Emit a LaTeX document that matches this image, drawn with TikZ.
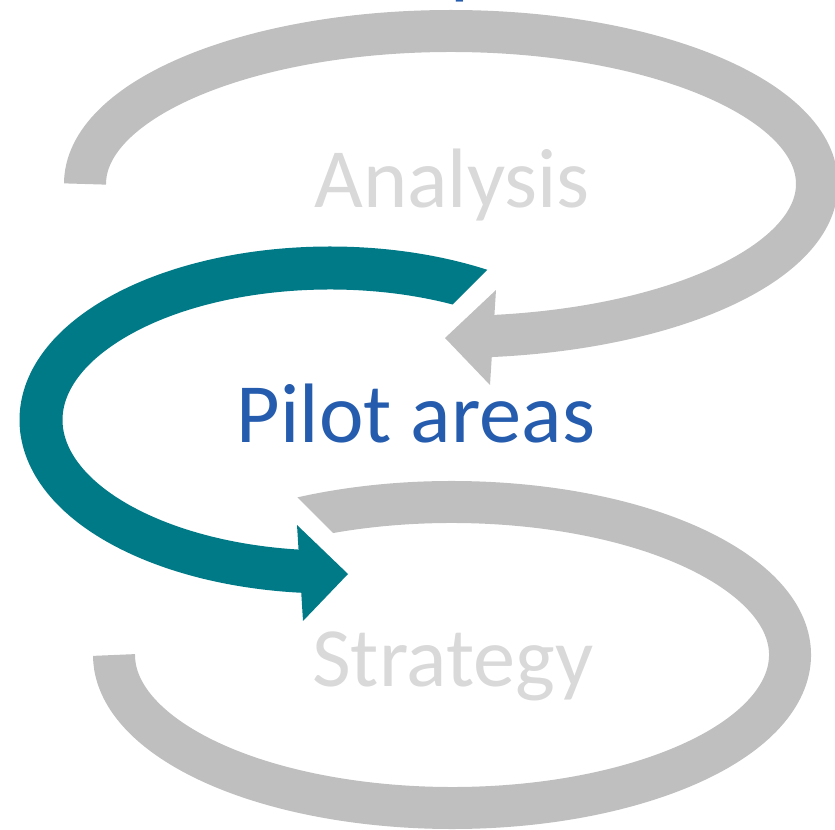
\documentclass[tikz,border=0pt]{standalone}
\usepackage{fontspec}
\setmainfont{Carlito}
\usepackage{tikz}

\definecolor{loopgray}{HTML}{BFBFBF}
\definecolor{loopteal}{HTML}{007A87}
\definecolor{labelgray}{HTML}{D9D9D9}
\definecolor{labelblue}{HTML}{255CAD}

\tikzset{
	ringline/.style={line width=0.84cm},
	steplabel/.style={font=\fontsize{48}{48}\selectfont, inner sep=0pt, anchor=base}
}

\begin{document}
\begin{tikzpicture}[x=0.02cm, y=-0.02cm]
	
	\useasboundingbox (0,0) rectangle (835,830);
	
	\coordinate (top) at (451,184);
	\coordinate (mid) at (330,420);
	\coordinate (bot) at (452,655);
	
	% upper loop, ends in an arrow to the left
	\draw[ringline, loopgray] (top) ++(180:366 and 153) arc[start angle=180, end angle=445, x radius=366, y radius=153];
	\fill[loopgray] (445,338) coordinate (tipA) -- (496,290) -- (490,385) -- cycle;
	
	% middle loop, cut at the top
	\begin{scope}
		\clip (0,0) -- (757,0) -- (357,400) -- (835,400) -- (835,830) -- (0,830) -- cycle;
		\draw[ringline, line width=0.86cm, loopteal] (mid) ++(-50:289 and 152) arc[start angle=-50, end angle=-267, x radius=289, y radius=152];
	\end{scope}
	\fill[loopteal] (348,574) coordinate (tipB) -- (297,525) -- (303,621) -- cycle;
	
	% lower loop
	\begin{scope}
		\clip (0,0) -- (835,0) -- (835,830) -- (0,830) -- (0,600) -- (400,600) -- (0,200) -- cycle;
		\draw[ringline, loopgray] (bot) ++(235:338 and 153) arc[start angle=235, end angle=540, x radius=338, y radius=153];
	\end{scope}
	
	\node[steplabel, text=labelblue, anchor=base west] (heading) at (450,-11) {p};
	\node[steplabel, text=labelgray] (analysis) at (452,208) {Analysis};
	\node[steplabel, text=labelblue] (pilot) at (416,443) {Pilot areas};
	\node[steplabel, text=labelgray] (strategy) at (453,686) {Strategy};
	
\end{tikzpicture}
\end{document}
